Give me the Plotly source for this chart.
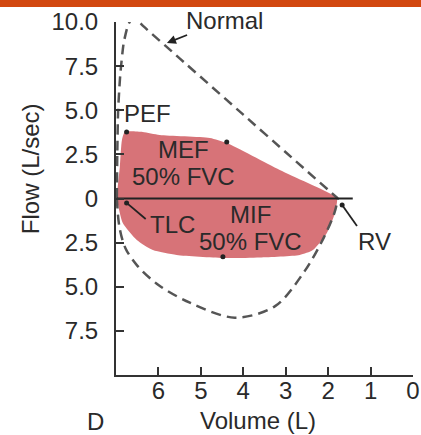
import plotly.graph_objects as go

# ---- data ----
normal_upper_volume = [6.98, 6.97, 6.95, 6.90, 6.82, 6.72, 6.62, 6.50, 6.35, 5.50, 4.00, 3.00, 1.77]
normal_upper_flow = [0.0, 2.5, 5.0, 7.0, 8.8, 9.8, 10.2, 10.1, 9.75, 7.94, 4.75, 2.62, 0.0]

normal_lower_volume = [6.98, 6.92, 6.78, 6.50, 6.00, 5.26, 4.20, 3.25, 2.55, 2.10, 1.85, 1.77]
normal_lower_flow = [0.0, -1.6, -2.8, -3.8, -4.9, -5.9, -6.75, -6.1, -4.1, -2.2, -0.8, 0.0]

patient_volume = [6.98, 6.91, 6.86, 6.79, 6.37, 5.97, 4.79, 4.39, 3.14, 1.89, 1.79,
                  1.84, 2.03, 2.36, 2.67, 3.61, 4.48, 5.57, 6.13, 6.51, 6.84, 6.96, 6.98]
patient_flow = [0.0, 1.78, 3.31, 3.77, 3.77, 3.60, 3.43, 3.14, 1.61, 0.2, 0.0,
                -0.82, -1.95, -2.92, -3.20, -3.34, -3.37, -3.20, -2.92, -2.35, -1.39, -0.25, 0.0]

point_names = ["PEF", "MEF", "MIF", "TLC", "RV"]
point_volume = [6.75, 4.39, 4.48, 6.75, 1.67]
point_flow = [3.77, 3.20, -3.30, -0.25, -0.37]

baseline_volume = [6.98, 1.42]
baseline_flow = [0.0, 0.0]

x_tickvals = [6, 5, 4, 3, 2, 1, 0]
x_ticktext = ["6", "5", "4", "3", "2", "1", "0"]
y_tickvals = [10, 7.5, 5, 2.5, 0, -2.5, -5, -7.5]
y_ticktext = ["10.0", "7.5", "5.0", "2.5", "0", "2.5", "5.0", "7.5"]

FONT = "Liberation Sans, Arial, sans-serif"
TXT = "#2a2a2a"
FS = 24

fig = go.Figure()

# patient loop (filled)
fig.add_trace(go.Scatter(
    x=patient_volume, y=patient_flow, mode="lines", fill="toself",
    fillcolor="rgb(215,115,120)", line=dict(width=0, shape="spline", smoothing=0.6),
    hoverinfo="skip", showlegend=False))

# normal loop (dashed)
fig.add_trace(go.Scatter(
    x=normal_upper_volume, y=normal_upper_flow, mode="lines",
    line=dict(color="#555555", width=2.5, dash="10px,6px", shape="spline", smoothing=0.5),
    hoverinfo="skip", showlegend=False))
fig.add_trace(go.Scatter(
    x=normal_lower_volume, y=normal_lower_flow, mode="lines",
    line=dict(color="#555555", width=2.5, dash="10px,6px", shape="spline", smoothing=0.9),
    hoverinfo="skip", showlegend=False))

# zero flow line
fig.add_trace(go.Scatter(
    x=baseline_volume, y=baseline_flow, mode="lines",
    line=dict(color="#222222", width=2), hoverinfo="skip", showlegend=False))

# leader lines
fig.add_trace(go.Scatter(
    x=[point_volume[3], 6.30], y=[point_flow[3], -1.16], mode="lines",
    line=dict(color="#222222", width=1.8), hoverinfo="skip", showlegend=False))
fig.add_trace(go.Scatter(
    x=[point_volume[4], 1.32], y=[point_flow[4], -1.56], mode="lines",
    line=dict(color="#222222", width=1.8), hoverinfo="skip", showlegend=False))

# key points
fig.add_trace(go.Scatter(
    x=point_volume, y=point_flow, mode="markers", text=point_names,
    marker=dict(color="#222222", size=5), hoverinfo="text", showlegend=False))

def label(text, x, y, xanchor="center"):
    return dict(text=text, x=x, y=y, xref="x", yref="y", showarrow=False,
                xanchor=xanchor, yanchor="middle",
                font=dict(family=FONT, size=FS, color=TXT))

annotations = [
    dict(text="Normal", x=5.80, y=8.81, xref="x", yref="y", ax=58, ay=-23,
         showarrow=True, arrowhead=2, arrowsize=1, arrowwidth=1.8, arrowcolor="#222222",
         font=dict(family=FONT, size=FS, color=TXT)),
    label("PEF", 6.86, 4.82, "left"),
    label("MEF", 5.40, 2.75),
    label("50% FVC", 5.40, 1.25),
    label("TLC", 5.68, -1.50),
    label("MIF", 3.82, -0.93),
    label("50% FVC", 3.84, -2.41),
    label("RV", 0.90, -2.41),
    dict(text="Volume (L)", x=0.478, y=-0.1275, xref="paper", yref="paper",
         showarrow=False, xanchor="center", yanchor="middle",
         font=dict(family=FONT, size=FS, color=TXT)),
    dict(text="Flow (L/sec)", x=-0.2896, y=0.586, xref="paper", yref="paper",
         showarrow=False, xanchor="center", yanchor="middle", textangle=-90,
         font=dict(family=FONT, size=FS, color=TXT)),
    dict(text="D", x=-0.0707, y=-0.133, xref="paper", yref="paper",
         showarrow=False, xanchor="center", yanchor="middle",
         font=dict(family=FONT, size=FS, color=TXT)),
]

axis_common = dict(showgrid=False, zeroline=False, showline=True, linecolor="#333333",
                   linewidth=2, ticks="inside", ticklen=8, tickwidth=2, tickcolor="#333333",
                   tickfont=dict(family=FONT, size=FS, color=TXT), fixedrange=True,
                   automargin=False)

fig.update_layout(
    width=421, height=435,
    margin=dict(l=116, r=8, t=22, b=60, autoexpand=False),
    paper_bgcolor="white", plot_bgcolor="white",
    xaxis=dict(range=[7.0, 0.0], tickmode="array", tickvals=x_tickvals, ticktext=x_ticktext,
               ticklabelstandoff=-7, **axis_common),
    yaxis=dict(range=[-10.0, 10.0], tickmode="array", tickvals=y_tickvals, ticktext=y_ticktext,
               ticklabelstandoff=11, **axis_common),
    annotations=annotations,
    shapes=[dict(type="rect", xref="paper", yref="paper", x0=-0.5, x1=1.1,
                 y0=(375 - 7) / 353, y1=1.2, fillcolor="#d2480f", line=dict(width=0),
                 layer="above")],
    showlegend=False,
)

fig.write_html("out.html")
